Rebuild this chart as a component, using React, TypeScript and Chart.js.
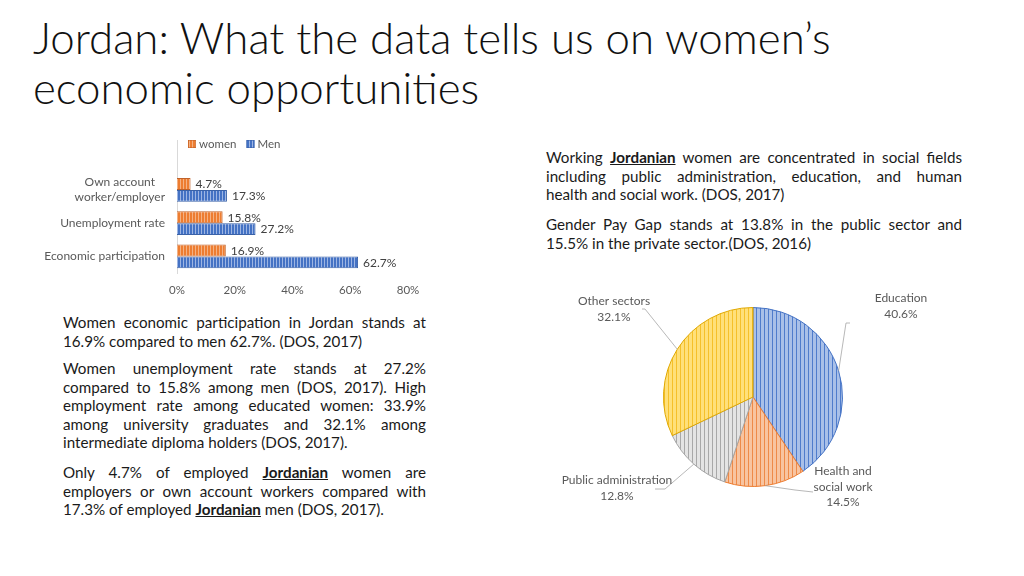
import React, { useEffect, useRef } from 'react';
import { Chart, registerables } from 'chart.js';

Chart.register(...registerables);

// ---------- data ----------
const barCategories: (string | string[])[] = ['', ['Own account', 'worker/employer'], 'Unemployment rate', 'Economic participation'];
const seriesNames = ['women', 'Men'];
const womenValues: (number | null)[] = [null, 4.7, 15.8, 16.9];
const menValues: (number | null)[] = [null, 17.3, 27.2, 62.7];
const xTickMax = 80;
const xTickStep = 20;

const sectorLabels: string[][] = [['Education'], ['Health and', 'social work'], ['Public administration'], ['Other sectors']];
const sectorValues = [40.6, 14.5, 12.8, 32.1];

// ---------- styles ----------
const FONT = 'Lato, "Open Sans", sans-serif';
// label placement for pie (offsets from pie centre): elbow, end of leader, text centre
const pieLabelStyle = [
  { ex: 93, ey: -74, lx: 97, ly: -74, tx: 148, ty: -91 },
  { ex: 42, ey: 93, lx: 60, ly: 95, tx: 90, ty: 90 },
  { ex: -88, ey: 92, lx: -98, ly: 92, tx: -136, ty: 91 },
  { ex: -108, ey: -88, lx: -111, ly: -88, tx: -139, ty: -88 },
];

function stripes(base: string, stripe: string, period: number, w: number) {
  const c = document.createElement('canvas');
  c.width = period;
  c.height = 4;
  const ctx = c.getContext('2d')!;
  ctx.fillStyle = base;
  ctx.fillRect(0, 0, period, 4);
  ctx.fillStyle = stripe;
  ctx.fillRect(0, 0, w, 4);
  return ctx.createPattern(c, 'repeat')!;
}

const barPlugin = {
  id: 'barDecor',
  afterDraw(chart: any) {
    const ctx = chart.ctx as CanvasRenderingContext2D;
    const ca = chart.chartArea;
    ctx.save();
    ctx.font = `12px ${FONT}`;
    ctx.textBaseline = 'middle';
    // value labels
    ctx.fillStyle = '#404040';
    ctx.textAlign = 'left';
    chart.data.datasets.forEach((ds: any, di: number) => {
      const meta = chart.getDatasetMeta(di);
      meta.data.forEach((el: any, i: number) => {
        const v = ds.data[i];
        if (v == null) return;
        ctx.fillText(v.toFixed(1) + '%', el.x + 5, el.y + 0.5);
      });
    });
    // category labels
    const ys = chart.scales.y;
    ctx.fillStyle = '#595959';
    barCategories.forEach((lab, i) => {
      const lines = Array.isArray(lab) ? lab : [lab];
      const y = ys.getPixelForTick(i);
      const mw = Math.max(...lines.map((l) => ctx.measureText(l).width));
      const right = ca.left - 12;
      ctx.textAlign = 'center';
      lines.forEach((l, k) => ctx.fillText(l, right - mw / 2, y + (k - (lines.length - 1) / 2) * 15));
    });
    // legend
    ctx.font = `11.5px ${FONT}`;
    let x = ca.left + 11;
    const ly = ca.top + 4;
    ctx.textAlign = 'left';
    chart.data.datasets.forEach((ds: any) => {
      ctx.fillStyle = ds.backgroundColor;
      ctx.fillRect(x, ly - 4, 8, 8);
      ctx.strokeStyle = ds.borderColor;
      ctx.lineWidth = 0.6;
      ctx.strokeRect(x + 0.3, ly - 3.7, 7.4, 7.4);
      ctx.fillStyle = '#595959';
      ctx.fillText(ds.label, x + 11, ly + 0.5);
      x += 11 + ctx.measureText(ds.label).width + 10;
    });
    ctx.restore();
  },
};

const piePlugin = {
  id: 'pieDecor',
  afterDraw(chart: any) {
    const ctx = chart.ctx as CanvasRenderingContext2D;
    const meta = chart.getDatasetMeta(0);
    ctx.save();
    ctx.font = `12px ${FONT}`;
    ctx.textBaseline = 'middle';
    ctx.textAlign = 'center';
    meta.data.forEach((el: any, i: number) => {
      const p = el.getProps(['x', 'y', 'startAngle', 'endAngle', 'outerRadius'], true);
      const mid = (p.startAngle + p.endAngle) / 2;
      const st = pieLabelStyle[i];
      const px = p.x + p.outerRadius * Math.cos(mid);
      const py = p.y + p.outerRadius * Math.sin(mid);
      ctx.strokeStyle = '#a6a6a6';
      ctx.lineWidth = 0.8;
      ctx.beginPath();
      ctx.moveTo(px, py);
      ctx.lineTo(p.x + st.ex, p.y + st.ey);
      ctx.lineTo(p.x + st.lx, p.y + st.ly);
      ctx.stroke();
      const lines = [...sectorLabels[i], sectorValues[i].toFixed(1) + '%'];
      ctx.fillStyle = '#595959';
      const lh = 15.5;
      lines.forEach((l, k) => {
        ctx.fillText(l, p.x + st.tx, p.y + st.ty + (k - (lines.length - 1) / 2) * lh);
      });
    });
    ctx.restore();
  },
};

function BarChart() {
  const ref = useRef<HTMLCanvasElement>(null);
  useEffect(() => {
    const womenFill = stripes('#ed7d31', '#f4b183', 3, 1);
    const menFill = stripes('#4472c4', '#9db5e3', 3, 1);
    const chart = new Chart(ref.current!, {
      type: 'bar',
      data: {
        labels: barCategories as any,
        datasets: [
          { label: seriesNames[0], data: womenValues, backgroundColor: womenFill as any, borderColor: '#c0622a', borderWidth: 1, categoryPercentage: 0.72, barPercentage: 1 },
          { label: seriesNames[1], data: menValues, backgroundColor: menFill as any, borderColor: '#3a62a8', borderWidth: 1, categoryPercentage: 0.72, barPercentage: 1 },
        ],
      },
      options: {
        indexAxis: 'y',
        animation: false,
        responsive: false,
        maintainAspectRatio: false,
        layout: { padding: { top: 10, right: 22, left: 0, bottom: 0 } },
        plugins: { legend: { display: false }, tooltip: { enabled: false } },
        scales: {
          x: {
            min: 0,
            max: xTickMax,
            ticks: { stepSize: xTickStep, callback: (v: any) => v + '%', color: '#595959', font: { size: 11.5, family: FONT }, padding: 10 },
            grid: { display: false, drawTicks: false },
            border: { display: false },
            afterFit: (s: any) => { s.height = 27; },
          },
          y: {
            ticks: { display: false },
            grid: { display: false, drawTicks: false },
            border: { display: true, color: '#d9d9d9', width: 1 },
            afterFit: (s: any) => { s.width = 177; },
          },
        },
      },
      plugins: [barPlugin],
    } as any);
    return () => chart.destroy();
  }, []);
  return <canvas ref={ref} width={430} height={170} style={{ position: 'absolute', left: 0, top: 130, width: 430, height: 170 }} />;
}

function PieChart() {
  const ref = useRef<HTMLCanvasElement>(null);
  useEffect(() => {
    const fills = [
      stripes('#a9c0e8', '#4f7ccc', 4, 1),
      stripes('#f8c4a0', '#ee8a48', 4, 1),
      stripes('#e4e4e4', '#a8a8a8', 4, 1),
      stripes('#ffe07a', '#f5c02a', 4, 1),
    ];
    const chart = new Chart(ref.current!, {
      type: 'pie',
      data: {
        labels: sectorLabels.map((l) => l.join(' ')),
        datasets: [
          {
            data: sectorValues,
            backgroundColor: fills as any,
            borderColor: ['#4472c4', '#ed7d31', '#a5a5a5', '#e0a800'],
            borderWidth: 1,
          },
        ],
      },
      options: {
        animation: false,
        responsive: false,
        maintainAspectRatio: false,
        layout: { padding: { left: 123, right: 127, top: 22, bottom: 38 } },
        plugins: { legend: { display: false }, tooltip: { enabled: false } },
      },
      plugins: [piePlugin],
    } as any);
    return () => chart.destroy();
  }, []);
  return <canvas ref={ref} width={430} height={240} style={{ position: 'absolute', left: 540, top: 285, width: 430, height: 240 }} />;
}

type Seg = string | { b: string };
function Para({ lines, left, top, width }: { lines: Seg[][]; left: number; top: number; width: number }) {
  return (
    <div style={{ position: 'absolute', left, top, width, fontSize: 15.2, lineHeight: '18.6px', color: '#1a1a1a', fontFamily: FONT }}>
      {lines.map((segs, i) => (
        <div
          key={i}
          style={{
            whiteSpace: 'nowrap',
            textAlign: i < lines.length - 1 ? 'justify' : 'left',
            textAlignLast: i < lines.length - 1 ? 'justify' : 'left',
          } as any}
        >
          {segs.map((s, k) =>
            typeof s === 'string' ? (
              <span key={k}>{s}</span>
            ) : (
              <b key={k} style={{ textDecoration: 'underline' }}>{s.b}</b>
            ),
          )}
        </div>
      ))}
    </div>
  );
}

export default function App() {
  Chart.defaults.font.family = FONT;
  return (
    <div style={{ position: 'absolute', left: 0, top: 0, width: 1024, height: 576, background: '#fff', overflow: 'hidden', fontFamily: FONT }}>
      <div style={{ position: 'absolute', left: 33, top: 12, fontSize: 43.8, fontWeight: 300, lineHeight: '50px', color: '#111', whiteSpace: 'nowrap' }}>
        <div>Jordan: What the data tells us on women’s</div>
        <div>economic opportunities</div>
      </div>
      <BarChart />
      <PieChart />
      <Para
        left={546}
        top={148}
        width={416}
        lines={[
          ['Working ', { b: 'Jordanian' }, ' women are concentrated in social fields'],
          ['including public administration, education, and human'],
          ['health and social work. (DOS, 2017)'],
        ]}
      />
      <Para
        left={546}
        top={215}
        width={416}
        lines={[['Gender Pay Gap stands at 13.8% in the public sector and'], ['15.5% in the private sector.(DOS, 2016)']]}
      />
      <Para
        left={63}
        top={313}
        width={363}
        lines={[['Women economic participation in Jordan stands at'], ['16.9% compared to men 62.7%. (DOS, 2017)']]}
      />
      <Para
        left={63}
        top={359}
        width={363}
        lines={[
          ['Women unemployment rate stands at 27.2%'],
          ['compared to 15.8% among men (DOS, 2017). High'],
          ['employment rate among educated women: 33.9%'],
          ['among university graduates and 32.1% among'],
          ['intermediate diploma holders (DOS, 2017).'],
        ]}
      />
      <Para
        left={63}
        top={463}
        width={363}
        lines={[
          ['Only 4.7% of employed ', { b: 'Jordanian' }, ' women are'],
          ['employers or own account workers compared with'],
          ['17.3% of employed ', { b: 'Jordanian' }, ' men (DOS, 2017).'],
        ]}
      />
    </div>
  );
}
